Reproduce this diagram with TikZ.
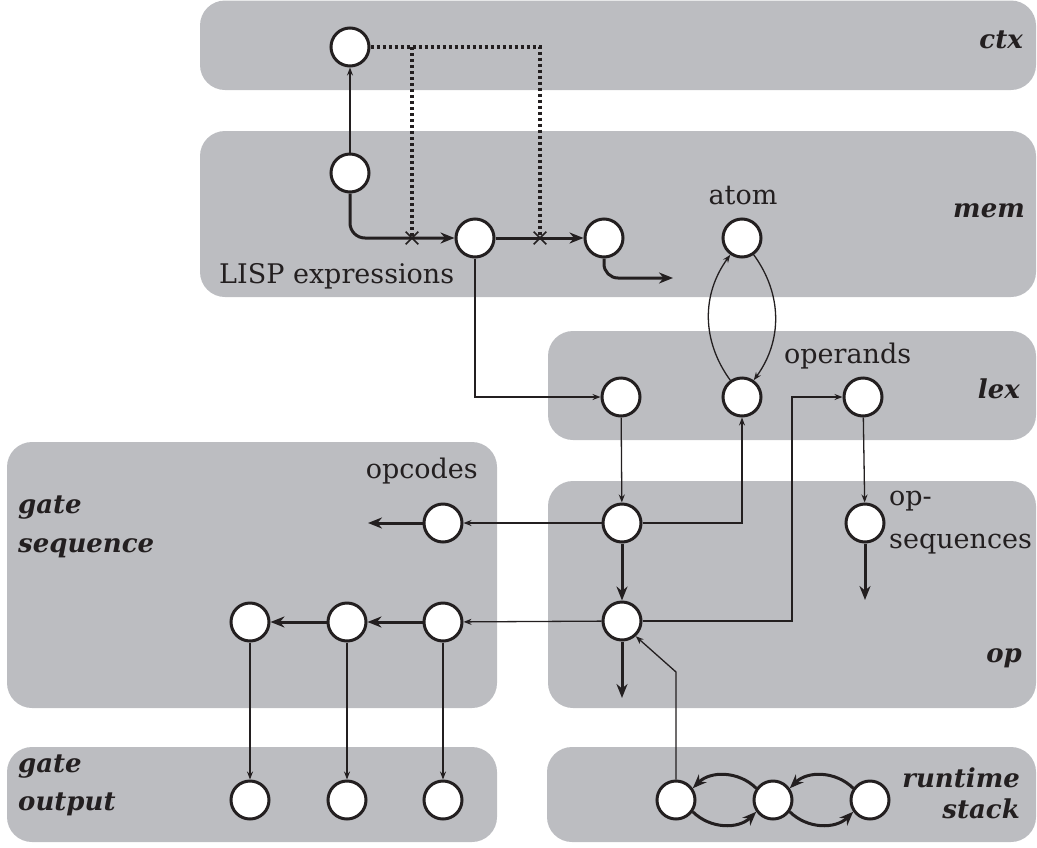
\documentclass[tikz,border=0pt]{standalone}
\usepackage{fontspec}
\setmainfont{DejaVu Serif}
\usetikzlibrary{arrows.meta,shapes.misc}
\definecolor{panelgray}{RGB}{188,189,193}
\definecolor{ink}{RGB}{35,31,32}

\begin{document}
\begin{tikzpicture}[x=1pt,y=-1pt,
  panel/.style={fill=panelgray, draw=none, rounded corners=25pt},
  state/.style={circle, draw=ink, fill=white, line width=3pt, minimum size=38pt, inner sep=0pt},
  link/.style={draw=ink, line width=1.3pt, -{Stealth[length=8pt,width=6pt]}},
  flow/.style={draw=ink, line width=3pt, -{Stealth[length=14pt,width=11pt]}},
  wire/.style={draw=ink, line width=3.2pt, dash pattern=on 3pt off 3pt},
  cut/.style={cross out, draw=ink, line width=1.6pt, minimum size=11pt, inner sep=0pt},
  txt/.style={font=\fontsize{27}{32}\selectfont, text=ink, inner sep=0pt},
  layer/.style={font=\fontsize{26}{30}\selectfont\bfseries\itshape, text=ink, inner sep=0pt},
]
\useasboundingbox (0,0) rectangle (1037,847);

% layer panels
\path[panel] (200,0.5) rectangle (1036,90);
\path[panel] (200,131) rectangle (1036,297);
\path[panel] (548,331) rectangle (1036,440);
\path[panel] (548,481) rectangle (1036,708);
\path[panel] (547,747) rectangle (1036,842);
\path[panel] (7,442) rectangle (497,708);
\path[panel] (7,747) rectangle (497,842);

% layer names
\node[layer, anchor=base east] (Lctx) at (1023,48) {ctx};
\node[layer, anchor=base east] (Lmem) at (1025,217) {mem};
\node[layer, anchor=base east] (Llex) at (1020,398) {lex};
\node[layer, anchor=base east] (Lop) at (1022,662) {op};
\node[layer, anchor=base east] (Lrt1) at (1020,787) {runtime};
\node[layer, anchor=base east] (Lrt2) at (1020,818) {stack};
\node[layer, anchor=base west] (Lgs1) at (18,513) {gate};
\node[layer, anchor=base west] (Lgs2) at (18,552) {sequence};
\node[layer, anchor=base west] (Lgo1) at (18,772) {gate};
\node[layer, anchor=base west] (Lgo2) at (18,810) {output};

% plain labels
\node[txt, anchor=base west] (tlisp) at (219,283) {LISP expressions};
\node[txt, anchor=base] (tatom) at (743,204) {atom};
\node[txt, anchor=base west] (toper) at (784,363) {operands};
\node[txt, anchor=base east] (topc) at (478,478) {opcodes};
\node[txt, anchor=base west] (tos1) at (889,505) {op-};
\node[txt, anchor=base west] (tos2) at (889,548) {sequences};

% states
\node[state] (c1) at (350,47) {};
\node[state] (m1) at (350,173) {};
\node[state] (m2) at (475,238) {};
\node[state] (m3) at (604,238) {};
\node[state] (at) at (742,238) {};
\node[state] (l1) at (621,397) {};
\node[state] (l2) at (742,397) {};
\node[state] (l3) at (863,397) {};
\node[state] (o1) at (622,523) {};
\node[state] (o2) at (622,621) {};
\node[state] (os) at (865,523) {};
\node[state] (g0) at (443,523) {};
\node[state] (g1) at (250,622) {};
\node[state] (g2) at (347,622) {};
\node[state] (g3) at (443,622) {};
\node[state] (q1) at (250,800) {};
\node[state] (q2) at (347,800) {};
\node[state] (q3) at (443,800) {};
\node[state] (r1) at (676,800) {};
\node[state] (r2) at (773,800) {};
\node[state] (r3) at (870,800) {};

% free ends and bends
\coordinate (e3) at (673,278);
\coordinate (eg0) at (368,523);
\coordinate (eos) at (865,600);
\coordinate (eo2) at (622,698);
\coordinate (d1) at (412,47);
\coordinate (d2) at (540,47);
\coordinate (x1) at (412,238);
\coordinate (x2) at (540,238);
\coordinate (bnd) at (792,500);
\coordinate (rb) at (676,672);

% context links (dotted)
\draw[wire] (c1.east) -- (d2) -- (x2);
\draw[wire] (d1) -- (x1);

% memory chain
\draw[link] (m1) -- (c1);
\draw[flow, rounded corners=15pt] (m1.south) |- (m2.west);
\draw[flow] (m2) -- (m3);
\draw[flow, rounded corners=14pt] (m3.south) |- (e3);
\node[cut] (k1) at (x1) {};
\node[cut] (k2) at (x2) {};

% mem -> lex
\draw[link] (m2.south) |- (l1.west);
\draw[link] (l2.125) to[out=126,in=-126] (at.235);
\draw[link] (at.-55) to[out=-54,in=54] (l2.55);

% lex -> op
\draw[link] (l1) -- (o1);
\draw[link] (o1.east) -| (l2.south);
\draw[link] (o2.east) -| (bnd) |- (l3.west);
\draw[link] (l3) -- (os);
\draw[flow] (os) -- (eos);
\draw[flow] (o1) -- (o2);
\draw[flow] (o2) -- (eo2);

% op -> gate sequence
\draw[link] (o1) -- (g0);
\draw[flow] (g0) -- (eg0);
\draw[link] (o2) -- (g3);
\draw[flow] (g3) -- (g2);
\draw[flow] (g2) -- (g1);

% gate sequence -> gate output
\draw[link] (g1) -- (q1);
\draw[link] (g2) -- (q2);
\draw[link] (g3) -- (q3);

% runtime stack
\draw[link] (r1.north) -- (rb) -- (o2.-48);
\draw[flow] (r1.-35) to[bend right=45] (r2.-145);
\draw[flow] (r2.145) to[bend right=45] (r1.35);
\draw[flow] (r2.-35) to[bend right=45] (r3.-145);
\draw[flow] (r3.145) to[bend right=45] (r2.35);
\end{tikzpicture}
\end{document}
